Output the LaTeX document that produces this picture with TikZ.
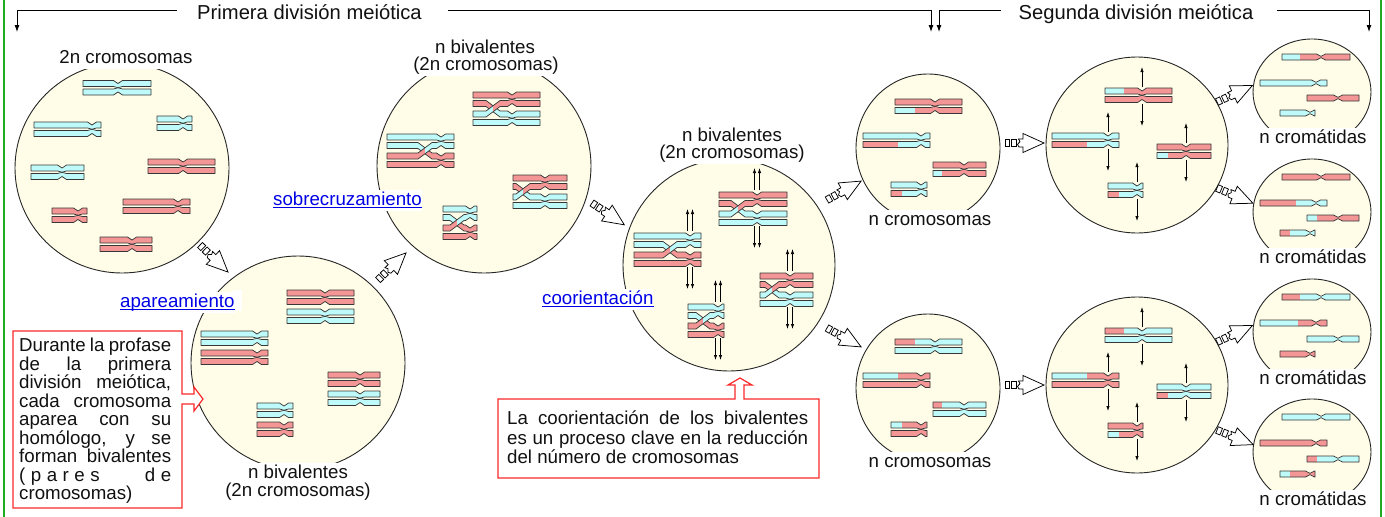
\documentclass[tikz,border=0pt]{standalone}
\usepackage{fontspec}
\setmainfont{Liberation Sans}
\usetikzlibrary{arrows.meta,shapes.geometric}
\definecolor{cy}{RGB}{191,250,250}
\definecolor{rd}{RGB}{245,150,150}
\definecolor{cell}{RGB}{255,253,231}
\definecolor{chl}{RGB}{55,55,55}
\definecolor{grn}{RGB}{34,170,34}
\definecolor{boxred}{RGB}{250,40,40}
\definecolor{lnk}{RGB}{0,0,230}
\definecolor{txt}{RGB}{17,17,17}
\tikzset{
 ctshape/.style n args={6}{insert path={(#1,#4) -- ({#3-4.5},#4) to[out=0,in=180] (#3,{#4+(#5)}) to[out=0,in=180] ({#3+4.5},#4) -- (#2,#4) -- (#2,{#4+6}) -- ({#3+4.5},{#4+6}) to[out=180,in=0] (#3,{#4+6+(#6)}) to[out=180,in=0] ({#3-4.5},{#4+6}) -- (#1,{#4+6}) -- cycle}},
 cr/.style={draw=chl, line width=0.7pt, line join=round},
 cellsh/.style={ellipse, draw=black!85, line width=0.9pt, fill=cell, inner sep=0pt, outer sep=0pt},
 arr/.style={-{Latex[length=5pt,width=3.4pt]}, line width=0.7pt, black},
 hline/.style={line width=0.9pt, black, -{Latex[length=7pt,width=5pt]}},
 glyph/.style={draw=black, fill=white, line width=0.75pt, line join=miter},
 lbl/.style={fill=white, inner xsep=1.5pt, inner ysep=1.5pt, text height=13.5pt, text depth=4pt, text=txt, font=\fontsize{18.7}{18.5}\selectfont},
 lnkst/.style={fill=white, inner xsep=0pt, inner ysep=1.5pt, text height=13.5pt, text depth=4pt, text=lnk, font=\fontsize{18.7}{18.5}\selectfont},
 hdr/.style={fill=white, inner sep=1pt, text=txt, font=\fontsize{20.2}{22}\selectfont},
 redbox/.style={draw=boxred, fill=white, line width=1.2pt, line join=miter},
 boxtxt/.style={anchor=base west, inner sep=0pt, text=txt, font=\fontsize{18.7}{18.5}\selectfont}
}
\newcommand\ct[9]{%
 \begin{scope}
 \fill[#7, ctshape={#1}{#2}{#3}{#4}{#5}{#6}];
 \clip (#8,{#4-6}) rectangle ({#2+6},{#4+14});
 \fill[#9, ctshape={#1}{#2}{#3}{#4}{#5}{#6}];
 \end{scope}
 \path[cr, ctshape={#1}{#2}{#3}{#4}{#5}{#6}];}
\newcommand\ctT[7]{\ct{#1}{#2}{#3}{#4}{3}{1.2}{#5}{#6}{#7}}
\newcommand\ctB[7]{\ct{#1}{#2}{#3}{#4}{-1.2}{-3}{#5}{#6}{#7}}
\newcommand\ctS[7]{\ct{#1}{#2}{#3}{#4}{2.3}{-2.3}{#5}{#6}{#7}}
\newcommand\chs[5]{\ctT{#1}{#2}{#3}{#4}{#5}{#2}{#5}\ctB{#1}{#2}{#3}{#4+8.5}{#5}{#2}{#5}}
\newcommand\biv[7]{%
 \chs{#1}{#2}{#3}{#4}{#5}%
 \chs{#1}{#2}{#3}{#4+19}{#6}%
 \fill[cell] ({#7-7},{#4+7.9}) rectangle ({#7+7},{#4+25.6});
 \begin{scope}\clip ({#7-8},{#4}) rectangle (#7,{#4+30});
  \fill[#5] ({#7-7},{#4+8.5}) -- ({#7+7},{#4+19}) -- ({#7+7},{#4+25}) -- ({#7-7},{#4+14.5}) -- cycle;\end{scope}
 \begin{scope}\clip (#7,{#4}) rectangle ({#7+8},{#4+30});
  \fill[#6] ({#7-7},{#4+8.5}) -- ({#7+7},{#4+19}) -- ({#7+7},{#4+25}) -- ({#7-7},{#4+14.5}) -- cycle;\end{scope}
 \draw[cr] ({#7-7},{#4+8.5}) -- ({#7+7},{#4+19}) ({#7-7},{#4+14.5}) -- ({#7+7},{#4+25});
 \begin{scope}\clip ({#7-8},{#4}) rectangle (#7,{#4+30});
  \fill[#6] ({#7-7},{#4+19}) -- ({#7+7},{#4+8.5}) -- ({#7+7},{#4+14.5}) -- ({#7-7},{#4+25}) -- cycle;\end{scope}
 \begin{scope}\clip (#7,{#4}) rectangle ({#7+8},{#4+30});
  \fill[#5] ({#7-7},{#4+19}) -- ({#7+7},{#4+8.5}) -- ({#7+7},{#4+14.5}) -- ({#7-7},{#4+25}) -- cycle;\end{scope}
 \draw[cr] ({#7-7},{#4+19}) -- ({#7+7},{#4+8.5}) ({#7-7},{#4+25}) -- ({#7+7},{#4+14.5});}
\newcommand\darr[2]{%
 \draw[arr] ({#1-2.5},{#2-2}) -- ({#1-2.5},{#2-24});
 \draw[arr] ({#1+2.5},{#2-2}) -- ({#1+2.5},{#2-24});
 \draw[arr] ({#1-2.5},{#2+34}) -- ({#1-2.5},{#2+56});
 \draw[arr] ({#1+2.5},{#2+34}) -- ({#1+2.5},{#2+56});}
\newcommand\sarr[2]{%
 \draw[arr] (#1,{#2-1}) -- (#1,{#2-21});
 \draw[arr] (#1,{#2+15.5}) -- (#1,{#2+38});}
\newcommand\garrow[3]{%
 \begin{scope}[shift={(#1,#2)}, rotate=#3]
  \draw[glyph] (0,-3.5) rectangle (4.5,3.5);
  \draw[glyph] (6.5,-3.5) rectangle (11,3.5);
  \draw[glyph] (13.5,-4) -- (18,-4) -- (18,-9.5) -- (39,0) -- (18,9.5) -- (18,4) -- (14,4) -- (12.5,1.3) -- (15,-1.3) -- cycle;
 \end{scope}}
\begin{document}
\begin{tikzpicture}[x=1pt,y=-1pt]
\useasboundingbox (0,0) rectangle (1385,517);
\fill[white] (0,0) rectangle (1385,517);
\draw[grn, line width=2.2pt] (4,0) -- (4,517);
\draw[grn, line width=2.2pt] (1381,0) -- (1381,517);
% header
\node[hdr, anchor=base] (t1) at (309.5,19.3) {Primera división meiótica};
\node[hdr, anchor=base] (t2) at (1136,19.3) {Segunda división meiótica};
\coordinate (p1) at (177,10); \coordinate (q1) at (17,10); \coordinate (r1) at (17,32);
\coordinate (p2) at (448,10); \coordinate (q2) at (931,10); \coordinate (r2) at (931,32);
\coordinate (p3) at (1001,10); \coordinate (q3) at (939,10); \coordinate (r3) at (939,32);
\coordinate (p4) at (1277,10); \coordinate (q4) at (1369,10); \coordinate (r4) at (1369,32);
\draw[hline] (p1) -- (q1) -- (r1);
\draw[hline] (p2) -- (q2) -- (r2);
\draw[hline] (p3) -- (q3) -- (r3);
\draw[hline] (p4) -- (q4) -- (r4);
% cells
\node[cellsh, minimum width=214pt, minimum height=210pt] (c1) at (122,168) {};
\node[cellsh, minimum width=214pt, minimum height=214pt] (c2) at (298,363) {};
\node[cellsh, minimum width=214pt, minimum height=214pt] (c3) at (484,166) {};
\node[cellsh, minimum width=212pt, minimum height=212pt] (c4) at (729,265) {};
\node[cellsh, minimum width=144pt, minimum height=148pt] (c5) at (928,148) {};
\node[cellsh, minimum width=144pt, minimum height=148pt] (c5b) at (928,388) {};
\node[cellsh, minimum width=182pt, minimum height=176pt] (c6) at (1137,145) {};
\node[cellsh, minimum width=182pt, minimum height=176pt] (c6b) at (1137,385) {};
\node[cellsh, minimum width=118pt, minimum height=106pt] (c7) at (1312,92) {};
\node[cellsh, minimum width=118pt, minimum height=106pt] (c8) at (1312,212) {};
\node[cellsh, minimum width=118pt, minimum height=106pt] (c9) at (1312,332) {};
\node[cellsh, minimum width=118pt, minimum height=106pt] (c10) at (1312,452) {};
% cell 1
\chs{83}{151}{118}{80.5}{cy}
\chs{34}{101}{92}{122}{cy}
\chs{157}{192}{183}{116}{cy}
\chs{31}{84}{62}{165}{cy}
\chs{148}{215}{183}{159}{rd}
\chs{52}{87}{78}{208}{rd}
\chs{123}{190}{178}{199}{rd}
\chs{100}{152}{132}{237}{rd}
% cell 2
\chs{287}{354}{325}{290}{rd}\chs{287}{354}{325}{309}{cy}
\chs{201}{268}{257}{331}{cy}\chs{201}{268}{257}{350}{rd}
\chs{328}{380}{360}{372}{rd}\chs{328}{380}{360}{391}{cy}
\chs{257}{293}{284}{403}{cy}\chs{257}{293}{284}{422}{rd}
% cell 3
\biv{473}{540}{512}{92}{rd}{cy}{493}
\biv{387}{454}{441}{134}{cy}{rd}{425}
\biv{513}{567}{545}{175}{rd}{cy}{523}
\biv{443}{477}{470}{206}{cy}{rd}{457}
% cell 4
\biv{634}{701}{690}{233}{cy}{rd}{670}\darr{690}{233}
\biv{719}{787}{757}{192}{rd}{cy}{738}\darr{757}{192}
\biv{760}{813}{790}{273}{rd}{cy}{772}\darr{790}{273}
\biv{688}{724}{718}{304}{cy}{rd}{703}\darr{718}{304}
% cell 5 upper
\ctT{895}{962}{935}{99}{rd}{962}{rd}\ctB{895}{962}{935}{107.5}{cy}{915}{rd}
\ctT{863}{930}{921}{133}{cy}{930}{cy}\ctB{863}{930}{921}{141.5}{rd}{898}{cy}
\ctT{933}{986}{964}{162}{rd}{986}{rd}\ctB{933}{986}{964}{170.5}{cy}{942}{rd}
\ctT{891}{927}{921}{182}{cy}{927}{cy}\ctB{891}{927}{921}{190.5}{rd}{902}{cy}
% cell 5 lower
\ctT{895}{962}{935}{339}{rd}{915}{cy}\ctB{895}{962}{935}{347.5}{cy}{962}{cy}
\ctT{863}{930}{921}{373}{cy}{898}{rd}\ctB{863}{930}{921}{381.5}{rd}{930}{rd}
\ctT{933}{986}{964}{402}{rd}{942}{cy}\ctB{933}{986}{964}{410.5}{cy}{986}{cy}
\ctT{891}{927}{921}{422}{cy}{902}{rd}\ctB{891}{927}{921}{430.5}{rd}{927}{rd}
% cell 6 upper
\ctT{1105}{1172}{1142}{88}{cy}{1124}{rd}\ctB{1105}{1172}{1142}{96.5}{rd}{1172}{rd}\sarr{1142}{88}
\ctT{1052}{1119}{1108}{133}{cy}{1119}{cy}\ctB{1052}{1119}{1108}{141.5}{rd}{1087}{cy}\sarr{1108}{133}
\ctT{1157}{1211}{1186}{144}{rd}{1211}{rd}\ctB{1157}{1211}{1186}{152.5}{cy}{1168}{rd}\sarr{1186}{144}
\ctT{1108}{1143}{1137}{183}{cy}{1143}{cy}\ctB{1108}{1143}{1137}{191.5}{rd}{1119}{cy}\sarr{1137}{183}
% cell 6 lower
\ctT{1105}{1172}{1142}{328}{rd}{1124}{cy}\ctB{1105}{1172}{1142}{336.5}{cy}{1172}{cy}\sarr{1142}{328}
\ctT{1052}{1119}{1108}{373}{cy}{1087}{rd}\ctB{1052}{1119}{1108}{381.5}{rd}{1119}{rd}\sarr{1108}{373}
\ctT{1157}{1211}{1186}{384}{cy}{1211}{cy}\ctB{1157}{1211}{1186}{392.5}{rd}{1168}{cy}\sarr{1186}{384}
\ctT{1108}{1143}{1137}{423}{rd}{1143}{rd}\ctB{1108}{1143}{1137}{431.5}{cy}{1119}{rd}\sarr{1137}{423}
% cells 7-10
\ctS{1282}{1350}{1321}{54}{cy}{1300}{rd}
\ctS{1260}{1327}{1316}{80}{cy}{1327}{cy}
\ctS{1307}{1359}{1338}{95}{rd}{1359}{rd}
\ctS{1280}{1315}{1310}{110}{cy}{1315}{cy}
\ctS{1282}{1350}{1321}{174}{rd}{1350}{rd}
\ctS{1260}{1327}{1316}{200}{rd}{1296}{cy}
\ctS{1307}{1359}{1338}{215}{cy}{1317}{rd}
\ctS{1280}{1315}{1310}{230}{rd}{1290}{cy}
\ctS{1282}{1350}{1321}{294}{rd}{1300}{cy}
\ctS{1260}{1327}{1316}{320}{cy}{1298}{rd}
\ctS{1307}{1359}{1338}{336}{cy}{1359}{cy}
\ctS{1280}{1315}{1310}{351}{rd}{1315}{rd}
\ctS{1282}{1350}{1321}{414}{cy}{1350}{cy}
\ctS{1260}{1327}{1316}{440}{rd}{1327}{rd}
\ctS{1307}{1359}{1338}{456}{rd}{1317}{cy}
\ctS{1280}{1315}{1310}{471}{cy}{1290}{rd}
% small arrows
\garrow{200}{245}{-44}
\garrow{378}{280}{44}
\garrow{592}{203}{-34}
\garrow{827}{200}{29}
\garrow{827}{328}{-29}
\garrow{1005}{143}{0}
\garrow{1005}{385}{0}
\garrow{1217}{102}{25}
\garrow{1217}{188}{-23}
\garrow{1217}{342}{25}
\garrow{1217}{430}{-22}
% labels
\node[lbl, anchor=base] (l1) at (126,63) {2n cromosomas};
\node[lbl, anchor=base] (l2a) at (298,478) {n bivalentes};
\node[lbl, anchor=base] (l2b) at (298,496) {(2n cromosomas)};
\node[lbl, anchor=base] (l3a) at (485,53) {n bivalentes};
\node[lbl, anchor=base] (l3b) at (486,70) {(2n cromosomas)};
\node[lbl, anchor=base] (l4a) at (732,141) {n bivalentes};
\node[lbl, anchor=base] (l4b) at (732,158) {(2n cromosomas)};
\node[lbl, anchor=base] (l5) at (930,225) {n cromosomas};
\node[lbl, anchor=base] (l5b) at (930,467) {n cromosomas};
\node[lbl, anchor=base] (l7) at (1313,143) {n cromátidas};
\node[lbl, anchor=base] (l8) at (1313,263) {n cromátidas};
\node[lbl, anchor=base] (l9) at (1313,384) {n cromátidas};
\node[lbl, anchor=base] (l10) at (1313,505) {n cromátidas};
% links
\node[lnkst, anchor=base west] (sob) at (273,205) {sobrecruzamiento};
\draw[lnk, line width=1.1pt] ([yshift=-2.3pt]sob.base west) -- ([yshift=-2.3pt]sob.base east);
\fill[white] (233,290) rectangle (242,311);
\node[lnkst, anchor=base west] (apa) at (120,307) {apareamiento};
\draw[lnk, line width=1.1pt] ([yshift=-2.3pt]apa.base west) -- ([yshift=-2.3pt]apa.base east);
\node[lnkst, anchor=base west] (coo) at (542,304) {coorientación};
\draw[lnk, line width=1.1pt] ([yshift=-2.3pt]coo.base west) -- ([yshift=-2.3pt]coo.base east);
% box 1
\draw[redbox] (13,331) -- (182,331) -- (182,394) -- (194,394) -- (194,387) -- (203,399) -- (194,411) -- (194,404) -- (182,404) -- (182,508) -- (13,508) -- cycle;
\node[boxtxt] (b1) at (19,499.5) {\vbox{\baselineskip=18.5pt\lineskip=0pt
\hbox to 152pt{Durante la profase}
\hbox to 152pt{de la primera}
\hbox to 152pt{división meiótica,}
\hbox to 152pt{cada cromosoma}
\hbox to 152pt{aparea con su}
\hbox to 152pt{homólogo, y se}
\hbox to 152pt{forman bivalentes}
\hbox to 152pt{(\kern5.5pt p\kern5.5pt a\kern5.5pt r\kern5.5pt e\kern5.5pt s\hfill d\kern5.5pt e}
\hbox to 152pt{cromosomas)\hfil}}};
% box 2
\draw[redbox] (498,399) -- (735,399) -- (735,385) -- (728,385) -- (740,378) -- (752,385) -- (744,385) -- (744,399) -- (819,399) -- (819,478) -- (498,478) -- cycle;
\node[boxtxt] (b2) at (507,463.5) {\vbox{\baselineskip=19.5pt\lineskip=0pt
\hbox to 301pt{La coorientación de los bivalentes}
\hbox to 301pt{es un proceso clave en la reducción}
\hbox to 301pt{del número de cromosomas\hfil}}};
\end{tikzpicture}
\end{document}
